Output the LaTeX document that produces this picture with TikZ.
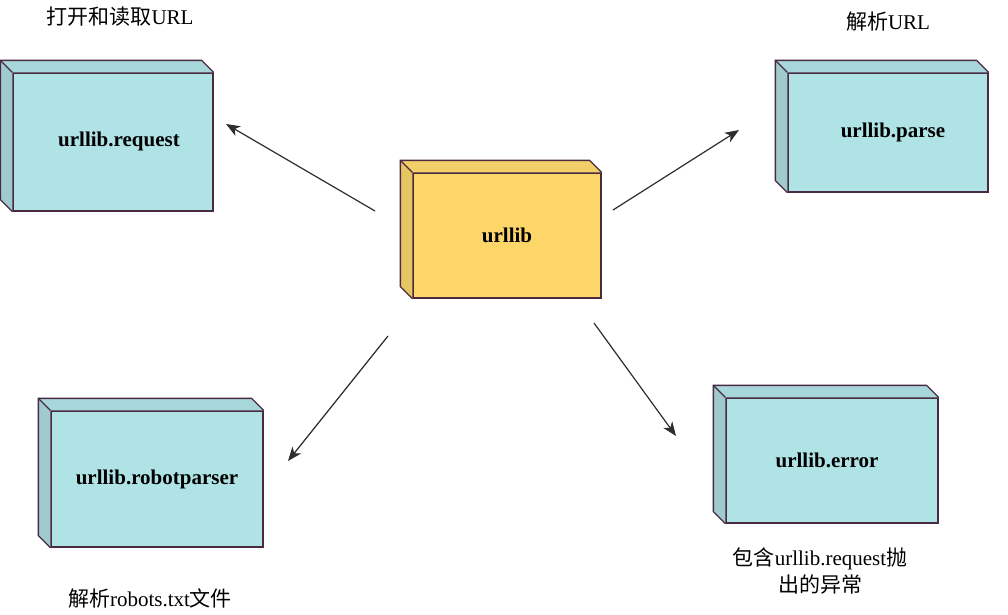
\documentclass[tikz,border=0pt]{standalone}
\usepackage{fontspec}
\setmainfont{Liberation Serif}
\newfontfamily\cjk{Noto Sans CJK SC}
\usetikzlibrary{arrows.meta,calc}
\definecolor{cyanfront}{HTML}{B0E3E6}
\definecolor{cyantop}{HTML}{A8D7DB}
\definecolor{cyanleft}{HTML}{9FCBCF}
\definecolor{yelfront}{HTML}{FCD668}
\definecolor{yeltop}{HTML}{F2CF68}
\definecolor{yelleft}{HTML}{E6C662}
\definecolor{edge}{HTML}{4A2A40}
\definecolor{arrowc}{HTML}{2E2E2E}
\tikzset{
  boxface/.style={draw=edge, line width=1.3pt, rectangle, inner sep=0pt,
    font=\fontsize{21}{25}\selectfont\bfseries},
  cyanbox/.style={boxface, fill=cyanfront},
  yelbox/.style={boxface, fill=yelfront},
  sideline/.style={draw=edge, line width=1.3pt, line join=miter},
  flow/.style={draw=arrowc, line width=1.2pt, -{Stealth[length=14pt,width=11pt,inset=4pt]}},
  caption/.style={inner sep=0pt, font=\fontsize{21}{27}\selectfont, align=center}
}
\newcommand{\depthfaces}[3]{%
  \fill[#2] (#1.north west) -- ($(#1.north west)+(-12pt,12pt)$) -- ($(#1.north east)+(-12pt,12pt)$) -- (#1.north east) -- cycle;
  \fill[#3] (#1.north west) -- ($(#1.north west)+(-12pt,12pt)$) -- ($(#1.south west)+(-12pt,12pt)$) -- (#1.south west) -- cycle;
  \draw[sideline] (#1.north east) -- ($(#1.north east)+(-12pt,12pt)$) -- ($(#1.north west)+(-12pt,12pt)$) -- ($(#1.south west)+(-12pt,12pt)$) -- (#1.south west);
  \draw[sideline] (#1.north west) -- ($(#1.north west)+(-12pt,12pt)$);
}
\begin{document}
\begin{tikzpicture}[x=1pt,y=-1pt]
\useasboundingbox (0,0) rectangle (1008,614);
\fill[white] (0,0) rectangle (1008,614);

% front faces
\node[cyanbox, minimum width=200pt, minimum height=138pt] (req) at (113,142) {\hspace*{12pt}urllib.request\rule[-6pt]{0pt}{0pt}};
\node[cyanbox, minimum width=200pt, minimum height=119pt] (parse) at (888,132.5) {\hspace*{10pt}urllib.parse};
\node[yelbox, minimum width=188pt, minimum height=125pt] (core) at (507,235.5) {urllib};
\node[cyanbox, minimum width=212pt, minimum height=136pt] (robot) at (157,479) {urllib.robotparser};
\node[cyanbox, minimum width=212pt, minimum height=125pt] (err) at (832,460.5) {urllib.error\hspace*{10pt}};

% depth faces
\depthfaces{req}{cyantop}{cyanleft}
\depthfaces{parse}{cyantop}{cyanleft}
\depthfaces{core}{yeltop}{yelleft}
\depthfaces{robot}{cyantop}{cyanleft}
\depthfaces{err}{cyantop}{cyanleft}

% arrow end points
\coordinate (s1) at (375,211);  \coordinate (t1) at (226,124);
\coordinate (s2) at (613,210);  \coordinate (t2) at (739,130);
\coordinate (s3) at (388,336);  \coordinate (t3) at (288,461);
\coordinate (s4) at (594,323);  \coordinate (t4) at (676,436);
\draw[flow] (s1) -- (t1);
\draw[flow] (s2) -- (t2);
\draw[flow] (s3) -- (t3);
\draw[flow] (s4) -- (t4);

% captions
\node[caption] (capreq) at (120,17) {{\cjk 打开和读取}URL};
\node[caption] (capparse) at (888,22) {{\cjk 解析}URL};
\node[caption] (caprobot) at (150,598) {{\cjk 解析}robots.txt{\cjk 文件}};
\node[caption] (caperr) at (820,571) {{\cjk 包含}\textrm{urllib.request}{\cjk 抛}\\{\cjk 出的异常}};
\end{tikzpicture}
\end{document}
